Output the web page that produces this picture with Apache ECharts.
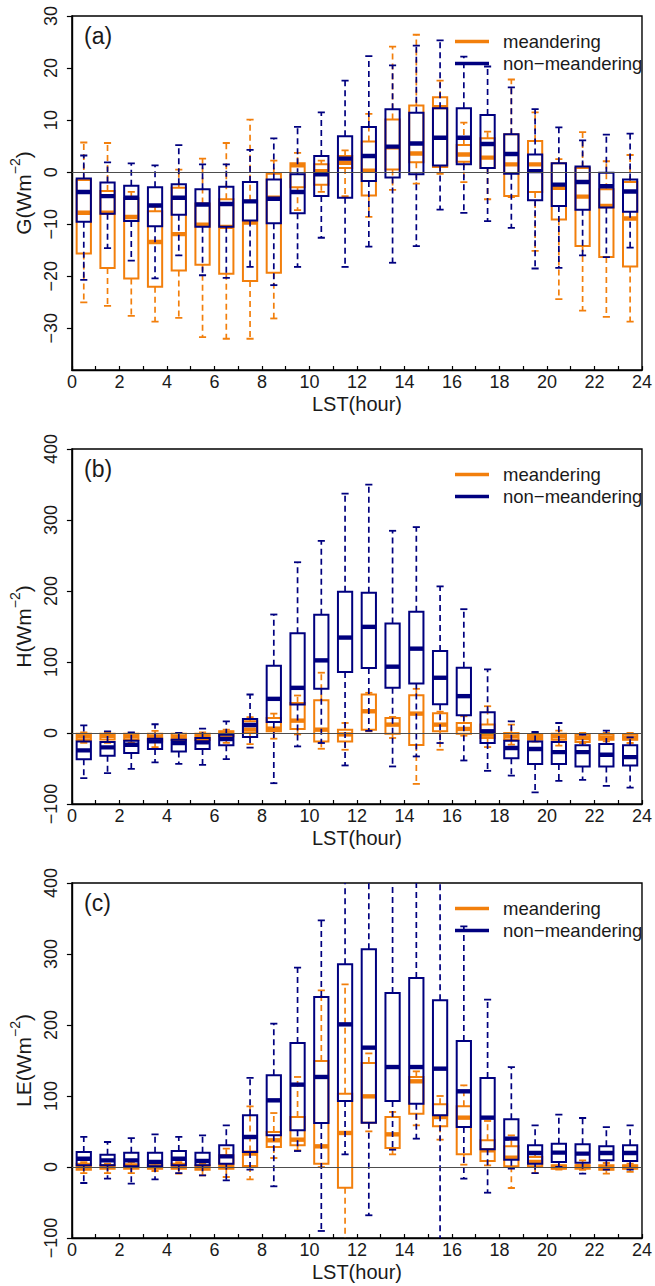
<!DOCTYPE html>
<html>
<head>
<meta charset="utf-8">
<script src="https://cdn.jsdelivr.net/npm/echarts@6/dist/echarts.min.js"></script>
<style>
  html, body { margin: 0; padding: 0; background: #fff; }
  #chart { width: 655px; height: 1286px; }
</style>
</head>
<body>
<div id="chart"></div>
<script>
// Hour-of-day bins (LST), box centres
const hours = [0.5, 1.5, 2.5, 3.5, 4.5, 5.5, 6.5, 7.5, 8.5, 9.5, 10.5, 11.5,
               12.5, 13.5, 14.5, 15.5, 16.5, 17.5, 18.5, 19.5, 20.5, 21.5, 22.5, 23.5];

// Each row: [lower whisker, Q1, median, Q3, upper whisker]
// (a) ground heat flux G
const gMeandering = [
  [-25.0, -15.6, -7.8, -1.5, 5.7], [-25.7, -18.4, -7.8, -3.6, 5.6], [-27.6, -20.4, -8.6, -5.0, -3.8],
  [-28.7, -22.0, -13.4, -7.5, -6.6], [-28.0, -18.9, -11.9, -3.0, 0.5], [-31.7, -17.8, -10.1, -6.0, 2.6],
  [-32.0, -19.5, -10.5, -5.2, 5.6], [-32.0, -20.9, -9.7, -5.5, 10.1], [-28.1, -19.3, -4.9, -0.3, 2.2],
  [-7.3, -2.9, 1.3, 1.7, 3.7], [-3.8, -2.4, 0.2, 1.5, 2.2], [-4.6, 0.8, 1.8, 3.1, 4.2],
  [-8.6, -4.5, 0.3, 5.9, 11.2], [-3.4, 0.5, 4.8, 10.1, 24.1], [-2.2, 1.9, 3.6, 12.8, 26.4],
  [-0.3, 1.0, 12.5, 14.4, 17.6], [-1.9, 2.0, 3.4, 5.2, 9.5], [-5.2, 0.8, 2.8, 6.5, 7.8],
  [-4.8, -4.6, 1.5, 7.3, 17.8], [-15.1, -3.8, 1.5, 6.0, 11.5], [-24.4, -9.1, -3.0, 1.7, 2.5],
  [-26.6, -14.2, -4.7, 0.8, 7.7], [-27.8, -16.3, -6.5, -3.3, 2.1], [-28.7, -18.1, -8.9, -1.9, 3.3]
];
const gNonMeandering = [
  [-20.7, -9.5, -3.8, -1.2, 3.2], [-14.6, -8.0, -4.6, -2.0, 1.9], [-17.0, -9.4, -4.9, -2.6, 1.7],
  [-20.4, -10.4, -6.4, -2.9, 1.3], [-16.0, -8.2, -4.9, -2.3, 5.2], [-19.8, -10.5, -6.2, -3.3, 1.5],
  [-20.3, -10.5, -6.1, -2.8, 1.5], [-18.2, -9.3, -5.6, -1.9, 4.3], [-21.7, -9.8, -5.1, -1.4, 6.5],
  [-18.2, -7.9, -3.8, -0.4, 8.7], [-12.6, -4.6, -0.4, 3.1, 11.5], [-18.2, -4.9, 2.6, 6.9, 17.6],
  [-14.3, -1.7, 3.1, 8.7, 22.3], [-17.4, -1.0, 4.9, 12.1, 20.5], [-14.2, -0.4, 5.5, 11.4, 24.3],
  [-7.2, 1.3, 6.6, 12.3, 25.3], [-7.8, 1.5, 6.6, 12.3, 22.2], [-9.4, 0.8, 5.4, 11.0, 20.3],
  [-10.7, -0.3, 3.5, 7.3, 16.3], [-18.5, -5.4, 0.2, 3.4, 12.1], [-18.4, -6.5, -2.4, 1.7, 8.6],
  [-16.0, -7.2, -1.9, 1.1, 6.1], [-16.3, -6.8, -2.7, -0.1, 7.2], [-14.5, -7.6, -3.7, -1.4, 7.4]
];

// (b) sensible heat flux H
const hMeandering = [
  [-14, -10, -5, -1, 1], [-14, -9, -4, -1, 0], [-14, -10, -5, -1, 0],
  [-20, -12, -6, -1, 3], [-14, -10, -6, -1, 0], [-12, -10, -4, -1, 1],
  [-14, -4.7, 0, 2.4, 4.7], [-15.6, 0, 4.7, 16.5, 22.2], [-8, 2.4, 6.1, 21.2, 27.3],
  [-2, 5.7, 17.4, 42.4, 52.8], [-22.2, -11.8, 4.7, 46.2, 84.9], [-23.6, -11.8, -2, 4.7, 14.1],
  [2.4, 4.7, 30.6, 54.2, 56.6], [-7, -1, 11.8, 21.2, 22.6], [-71.7, -17, 27.3, 53.3, 62.2],
  [-23.6, 2.4, 11.8, 27.8, 30], [-3.8, -1, 5.7, 14.1, 23.6], [-19.8, -7, -2.4, 11.8, 37.7],
  [-16.5, -9.4, -4.7, 0, 11.8], [-12, -9.4, -5.7, -2.4, 1], [-17.9, -9.4, -4.7, -1, 3.3],
  [-14.1, -12.7, -7, -2.4, 0], [-11.8, -9.4, -6.1, -1.4, 0], [-14.1, -9.4, -7, -2.4, 0]
];
const hNonMeandering = [
  [-63.6, -36.8, -24.5, -11.8, 10.8], [-56.6, -32, -20.3, -12.7, 2.4], [-50.4, -28.3, -16.5, -10.8, 1],
  [-41.5, -22.6, -11.8, -8, 12.3], [-43.4, -26, -14, -9.4, 0], [-44.8, -22.6, -13.2, -7, 6.1],
  [-36.8, -17.4, -8.5, -2.4, 16.5], [-20.7, -5.7, 11.3, 19.8, 54.2], [-70.7, 15.6, 48.1, 94.8, 166.9],
  [-18.9, 40.1, 63.6, 140.5, 240.5], [-14.1, 62.2, 102.3, 166.4, 270.6], [-45.7, 85.8, 134.4, 199, 337.1],
  [3, 91.5, 149.5, 197.5, 349.8], [-47.1, 63.6, 93.4, 154.2, 284.8], [-33, 69.8, 118.8, 170.7, 290],
  [-14.1, 40.5, 77.8, 115.5, 206.5], [-38.7, 25, 51.9, 91.9, 174.4], [-53.3, -14.1, 2.4, 29.2, 89.6],
  [-59.9, -35.4, -21.2, -10.8, 16.5], [-83.5, -43.8, -22.6, -11.8, 1.4], [-67.4, -43.8, -26.9, -12.7, 14.1],
  [-66, -47.1, -26.9, -17.4, -2.4], [-74.5, -47.1, -30.6, -15.6, 3.3], [-76.9, -45.7, -34, -17.4, -6.1]
];

// (c) latent heat flux LE
const leMeandering = [
  [-8.5, -3.8, 0, 4.7, 7], [-8.5, -2.3, 1, 2.3, 4.7], [-8.5, -2.3, 1, 3.8, 7],
  [-5.6, -2.3, 0, 2.3, 4.7], [-9.4, -2.3, 1, 4.7, 7], [-11.7, -3.8, -1, 2.3, 4.7],
  [-14.1, -2.3, 1, 16.4, 25.8], [-17.4, 1.4, 18.8, 22, 85.4], [12.7, 28.2, 37.6, 49.3, 76],
  [23.5, 30.5, 38.5, 70.4, 126.8], [0, 4.7, 29.1, 149.3, 248.8], [-130, -29.1, 47.9, 103.3, 257.3],
  [50.2, 62.4, 99.5, 146.5, 160], [17.8, 26.8, 46, 70.4, 77.5], [58.7, 75.1, 120.7, 126.8, 134.7],
  [38.5, 57.3, 70.4, 88.3, 100], [3.3, 17.8, 69.5, 85.4, 115], [2.3, 8.5, 23.5, 37.6, 64.8],
  [-29.6, 1, 13.1, 29.1, 44.6], [-8.5, 1, 7, 14, 20], [-3.8, -2.3, 0, 2.3, 7],
  [-4, -2.3, 1, 2.3, 9.4], [-9.4, -3.8, -1.4, 2.3, 5.6], [-7, -2.3, 0, 2.3, 4.7]
];
const leNonMeandering = [
  [-22.5, 2.3, 11.7, 21.1, 42.3], [-16.4, 2.3, 9.4, 17.4, 35.2], [-23.5, 1, 9.4, 20.2, 40.8],
  [-17.4, 1, 7, 20.2, 46], [-8.5, 2.3, 11.7, 22.5, 42.3], [-11.7, 2.3, 8.5, 20.2, 44.6],
  [-18.8, 4.7, 15, 30.5, 58.7], [-3.8, 21.1, 42.3, 72.8, 125.4], [-27.2, 44.6, 93.9, 129.1, 201.9],
  [22.5, 51.6, 116, 174.6, 280.8], [-90.1, 62, 126.8, 239.4, 347.4], [17.8, 93, 200.9, 285.4, 460],
  [-68, 62.4, 168.1, 306.6, 470], [24.4, 93, 140.8, 245, 430], [39.9, 89.2, 140.8, 266.2, 420],
  [-120, 72.8, 138.5, 234.7, 440], [-16.4, 56.3, 106.6, 177.5, 339], [-36.2, 24.9, 69.5, 125.4, 235.7],
  [-2.3, 10.3, 39.9, 67.1, 140.8], [-8.5, 4.7, 19.7, 30.5, 58.7], [0, 7, 20.2, 32.9, 73.7],
  [-9.4, 6.1, 18.8, 31.9, 69], [-3.8, 9.4, 19.7, 29.1, 56.3], [-3.8, 8.5, 19.7, 30.5, 58.7]
];

// Axis tick positions
const hourTicks = [0, 1, 2, 3, 4, 5, 6, 7, 8, 9, 10, 11, 12, 13, 14, 15, 16, 17, 18, 19, 20, 21, 22, 23, 24];
const gTicks = [-30, -20, -10, 0, 10, 20, 30];
const fluxTicks = [-100, 0, 100, 200, 300, 400];

const seriesNames = ['meandering', 'non\u2212meandering'];

const ORANGE = '#F27F0C';
const NAVY = '#00007F';
const FONT = '"Liberation Sans", Arial, Helvetica, sans-serif';
const TEXT = '#1a1a1a';
const BOX_WIDTH = 0.6;   // in hours

const panels = [
  { top: 16,  height: 354, min: -38,  max: 30,  ticks: gTicks,    tag: '(a)', q: 'G',  data: [gMeandering, gNonMeandering] },
  { top: 449, height: 355, min: -100, max: 400, ticks: fluxTicks, tag: '(b)', q: 'H',  data: [hMeandering, hNonMeandering] },
  { top: 883, height: 355, min: -100, max: 400, ticks: fluxTicks, tag: '(c)', q: 'LE', data: [leMeandering, leNonMeandering] }
];
const GRID_LEFT = 67, GRID_WIDTH = 575;

const minusFmt = v => String(v).replace('-', '\u2212');

// Box-and-whisker glyph: dashed whiskers with staples, open box, thick median
function renderBox(params, api) {
  const x = api.value(0);
  const lo = api.value(1), q1 = api.value(2), md = api.value(3), q3 = api.value(4), hi = api.value(5);
  const color = api.visual('color');
  const halfW = api.size([BOX_WIDTH, 0])[0] / 2;
  const capHalf = halfW / 2;
  const cx = api.coord([x, md])[0];
  const y = v => api.coord([x, v])[1];
  const yLo = y(lo), yQ1 = y(q1), yMd = y(md), yQ3 = y(q3), yHi = y(hi);
  const dash = { stroke: color, lineWidth: 1.7, lineDash: [6, 4], fill: null };
  const solid = { stroke: color, lineWidth: 1.8, fill: null };
  const cs = params.coordSys;
  return {
    type: 'group',
    clipPath: { type: 'rect', shape: { x: cs.x, y: cs.y, width: cs.width, height: cs.height } },
    children: [
      { type: 'line', shape: { x1: cx, y1: yQ3, x2: cx, y2: yHi }, style: dash },
      { type: 'line', shape: { x1: cx, y1: yQ1, x2: cx, y2: yLo }, style: dash },
      { type: 'line', shape: { x1: cx - capHalf, y1: yHi, x2: cx + capHalf, y2: yHi }, style: solid },
      { type: 'line', shape: { x1: cx - capHalf, y1: yLo, x2: cx + capHalf, y2: yLo }, style: solid },
      { type: 'rect', shape: { x: cx - halfW, y: yQ3, width: 2 * halfW, height: yQ1 - yQ3 },
        style: { stroke: color, lineWidth: 2, fill: null } },
      { type: 'line', shape: { x1: cx - halfW, y1: yMd, x2: cx + halfW, y2: yMd },
        style: { stroke: color, lineWidth: 4.4, fill: null } }
    ]
  };
}

const grid = [], xAxis = [], yAxis = [], series = [], legend = [], graphic = [];

panels.forEach((p, i) => {
  grid.push({ left: GRID_LEFT, top: p.top, width: GRID_WIDTH, height: p.height,
              show: true, borderColor: '#000', borderWidth: 1.4, backgroundColor: 'transparent' });

  xAxis.push({
    gridIndex: i, type: 'value', min: 0, max: 24, interval: 1,
    axisLine: { show: true, onZero: false, lineStyle: { color: '#000', width: 1.4 } },
    axisTick: { show: true, inside: true, length: 4, lineStyle: { color: '#000', width: 1.2 } },
    axisLabel: { show: true, margin: 3, fontSize: 18, color: TEXT, fontFamily: FONT,
                 showMinLabel: true, showMaxLabel: true,
                 formatter: v => (v % 2 === 0 ? String(v) : '') },
    splitLine: { show: false },
    name: 'LST(hour)', nameLocation: 'middle', nameGap: 24,
    nameTextStyle: { fontSize: 20, color: TEXT, fontFamily: FONT }
  });

  yAxis.push({
    gridIndex: i, type: 'value', min: p.min, max: p.max,
    axisLine: { show: true, onZero: false, lineStyle: { color: '#000', width: 1.4 } },
    axisTick: { show: true, inside: false, length: 5, customValues: p.ticks,
                lineStyle: { color: '#000', width: 1.2 } },
    axisLabel: { show: true, customValues: p.ticks, rotate: 90, margin: 12, fontSize: 18,
                 color: TEXT, fontFamily: FONT, formatter: minusFmt },
    splitLine: { show: false },
    name: '{t|' + p.q + '(Wm}{s|\u22122}{t|)}',
    nameLocation: 'middle', nameRotate: 90, nameGap: 37,
    nameTextStyle: {
      color: TEXT, fontFamily: FONT,
      rich: {
        t: { fontSize: 21, lineHeight: 26, verticalAlign: 'bottom', color: TEXT, fontFamily: FONT },
        s: { fontSize: 14, lineHeight: 14, verticalAlign: 'top', color: TEXT, fontFamily: FONT }
      }
    }
  });

  [ORANGE, NAVY].forEach((color, k) => {
    const s = {
      type: 'custom',
      name: seriesNames[k],
      xAxisIndex: i, yAxisIndex: i,
      itemStyle: { color: color },
      renderItem: renderBox,
      encode: { x: 0, y: [1, 2, 3, 4, 5] },
      data: hours.map((h, j) => [h].concat(p.data[k][j])),
      silent: true,
      z: 2 + k
    };
    if (k === 0) {
      s.markLine = {
        silent: true, symbol: 'none', label: { show: false },
        lineStyle: { color: '#4d4d4d', type: 'solid', width: 1.2 },
        data: [{ yAxis: 0 }]
      };
    }
    series.push(s);
  });

  legend.push({
    orient: 'vertical', left: 450, top: p.top + 11,
    icon: 'rect', itemWidth: 34, itemHeight: 3.5, itemGap: 3,
    selectedMode: false,
    textStyle: { fontSize: 18.5, color: TEXT, fontFamily: FONT, padding: [0, 0, 0, 9] },
    data: seriesNames
  });

  graphic.push({
    type: 'text', left: 84, top: p.top + 8, silent: true,
    style: { text: p.tag, fontSize: 23, fill: TEXT, fontFamily: FONT }
  });
});

const chart = echarts.init(document.getElementById('chart'), null, { renderer: 'svg' });
chart.setOption({
  animation: false,
  backgroundColor: '#fff',
  grid, xAxis, yAxis, series, legend, graphic
});
</script>
</body>
</html>
